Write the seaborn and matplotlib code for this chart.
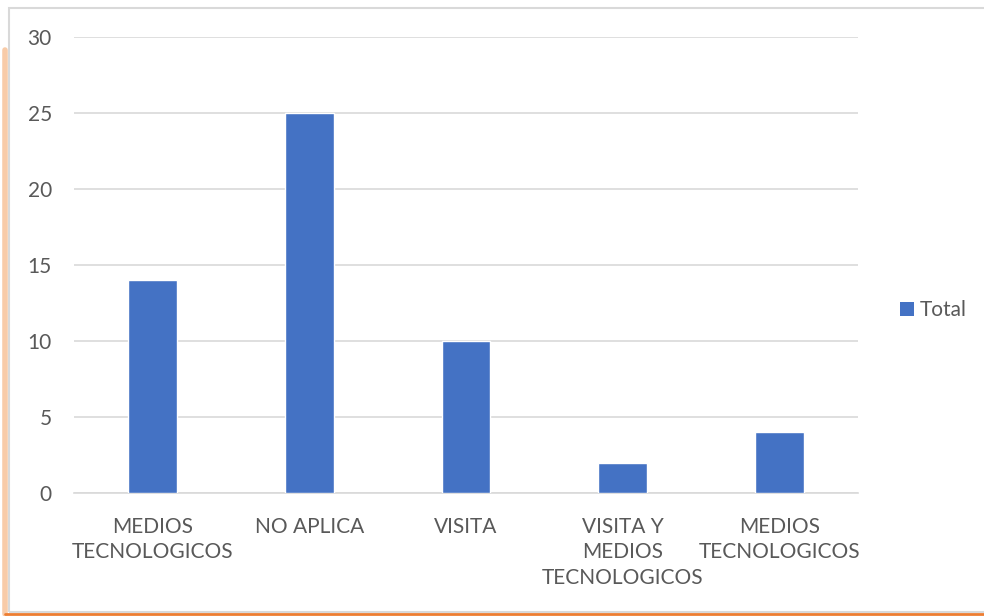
import seaborn as sns
import matplotlib.pyplot as plt
import pandas as pd
from matplotlib.patches import Rectangle, Patch
from matplotlib.lines import Line2D

# Datos del gráfico
categorias = ['MEDIOS\nTECNOLOGICOS', 'NO APLICA', 'VISITA',
              'VISITA Y\nMEDIOS\nTECNOLOGICOS', 'MEDIOS\nTECNOLOGICOS']
totales = [14, 25, 10, 2, 4]
yticks = [0, 5, 10, 15, 20, 25, 30]

sns.set_theme(style='white')
plt.rcParams['font.family'] = ['Lato', 'DejaVu Sans']

df = pd.DataFrame({'pos': range(len(categorias)), 'Total': totales})

fig = plt.figure(figsize=(9.84, 6.16), dpi=100)
ax = fig.add_axes([74 / 984, 1 - 493 / 616, 784 / 984, 456 / 616])

sns.barplot(data=df, x='pos', y='Total', color='#4472C4', width=0.31,
            saturation=1, ax=ax, zorder=3)

ax.set_ylim(0, 30)
ax.set_xlim(-0.5, len(categorias) - 0.5)
ax.set_yticks(yticks)
ax.set_yticklabels([str(t) for t in yticks])
ax.set_xticks(range(len(categorias)))
ax.set_xticklabels(categorias, linespacing=1.35, va='top')
ax.yaxis.grid(True, color='#d9d9d9', linewidth=1.2, zorder=0)
ax.set_axisbelow(True)
for s in ['top', 'right', 'left']:
    ax.spines[s].set_visible(False)
ax.spines['bottom'].set_color('#d9d9d9')
ax.spines['bottom'].set_linewidth(1.2)
ax.tick_params(axis='both', length=0, labelsize=15, colors='#595959')
ax.tick_params(axis='x', pad=17)
ax.tick_params(axis='y', pad=16)
ax.set_xlabel('')
ax.set_ylabel('')

# Leyenda
handles = [Patch(facecolor='#4472C4', edgecolor='none', label='Total')]
fig.legend(handles=handles, loc='center left', bbox_to_anchor=(900 / 984, 1 - 310 / 616),
           frameon=False, fontsize=15, handlelength=0.68, handleheight=0.68,
           handletextpad=0.25, borderpad=0, borderaxespad=0, labelcolor='#595959')

# Marco del gráfico con sombra naranja
fig.add_artist(Line2D([5 / 984, 5 / 984], [1 - 50 / 616, 1 - 614 / 616],
                      color='#f8cba8', linewidth=4, transform=fig.transFigure))
fig.add_artist(Line2D([5 / 984, 984 / 984], [1 - 614 / 616, 1 - 614 / 616],
                      color='#ed7d31', linewidth=2, transform=fig.transFigure))
fig.add_artist(Rectangle((9 / 984, 1 - 612 / 616), 985 / 984, 604 / 616,
                         transform=fig.transFigure, fill=False,
                         edgecolor='#d9d9d9', linewidth=1.5))

fig.savefig('out.png', dpi=100)
